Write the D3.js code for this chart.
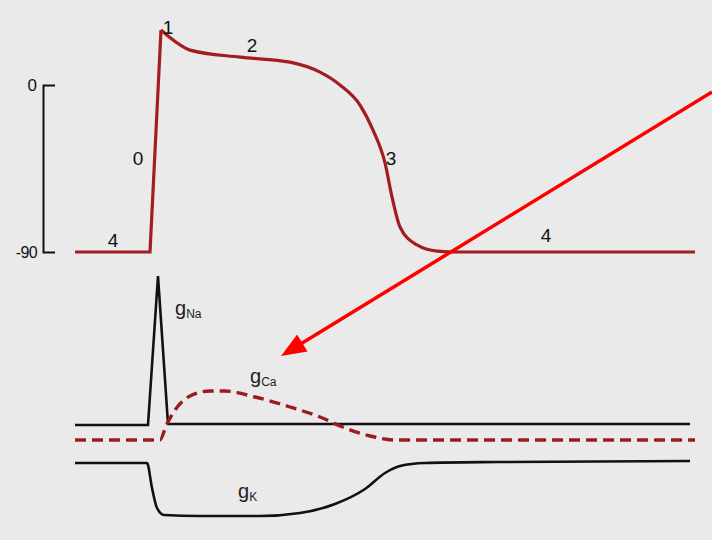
<!DOCTYPE html>
<html>
<head>
<meta charset="utf-8">
<script src="https://cdn.jsdelivr.net/npm/d3@7"></script>
<style>
  html, body { margin: 0; padding: 0; background: #eaeaea; }
  svg { display: block; font-family: "Liberation Sans", Arial, sans-serif; }
</style>
</head>
<body>
<svg id="chart" width="712" height="540"></svg>
<script>
// action potential (time in ms, membrane voltage in mV)
const apTime = [0, 37.5, 43, 46.5, 57.5, 82.5, 107.5, 122.5, 132.5, 142.5, 149, 155, 158.5, 162.5, 171, 181, 192.5, 310];
const apVolt = [-90, -90, 29.6, 26.4, 18.8, 15, 12.3, 6.9, 0, -10.8, -24.3, -42, -60.3, -76.5, -86.2, -89.5, -90, -90];

// conductances (arbitrary units, each trace on its own offset)
const naTime = [0, 36.5, 41.5, 46.5, 307.5];
const naCond = [40, 40, 99.6, 40.4, 40.4];

const caTime = [0, 42.5, 45.5, 50, 57.5, 67.5, 75, 90, 107.5, 122.5, 135, 147.5, 160, 172.5, 310];
const caCond = [34, 34, 39.6, 46, 51.6, 53.6, 53.6, 51.2, 47.2, 43.2, 38.8, 35.6, 34, 34, 34];

const kTime = [0, 36, 38.5, 41, 44.5, 62.5, 92.5, 112.5, 130, 145, 155, 162.5, 175, 212.5, 307.5];
const kCond = [24.8, 24.8, 14.8, 6.8, 4, 3.6, 3.6, 4.8, 8.4, 14.4, 20.8, 23.6, 24.8, 25.2, 25.6];

const voltTicks = [-90, 0];

const phaseText = ["0", "1", "2", "3", "4", "4"];
const phaseTime = [31.5, 46.5, 88.5, 158, 19, 235.5];
const phaseVolt = [-39.3, 31.3, 21.6, -39.3, -83.5, -80.8];

const condNames = ["Na", "Ca", "K"];
const condLabelTime = [50, 87.5, 81.5];
const condLabelVal = [84, 56.8, 10.8];

const svg = d3.select("#chart");

const x = d3.scaleLinear().domain([0, 310]).range([75, 695]);
const yV = d3.scaleLinear().domain([-90, 0]).range([252, 85]);
const yG = d3.scaleLinear().domain([0, 100]).range([525, 275]);

const apRed = "#a11d21";

// voltage bracket
const axis = svg.append("g")
    .attr("transform", "translate(43,0)")
    .call(d3.axisLeft(yV).tickValues(voltTicks).tickFormat(d => String(d))
        .tickSizeInner(0).tickSizeOuter(-12).tickPadding(6));
axis.select(".domain").attr("stroke", "#111").attr("stroke-width", 2);
axis.selectAll(".tick text")
    .attr("fill", "#111")
    .attr("font-size", d => d === 0 ? 17 : 16)
    .attr("letter-spacing", d => d === 0 ? 0 : -0.6)
    .attr("font-family", "'Liberation Sans', Arial, sans-serif");

// action potential: sharp upstroke, smooth repolarisation
const apPts = apTime.map((t, i) => [t, apVolt[i]]);
const linLine = d3.line().x(d => x(d[0])).y(d => yV(d[1]));
const smoothLine = d3.line().x(d => x(d[0])).y(d => yV(d[1])).curve(d3.curveMonotoneX);

svg.append("path")
    .attr("d", linLine(apPts.slice(0, 3)))
    .attr("fill", "none").attr("stroke", apRed).attr("stroke-width", 3.2)
    .attr("stroke-linejoin", "miter");
svg.append("path")
    .attr("d", smoothLine(apPts.slice(2)))
    .attr("fill", "none").attr("stroke", apRed).attr("stroke-width", 3.2);

svg.selectAll(".phase")
    .data(phaseText)
    .enter().append("text")
    .attr("class", "phase")
    .attr("x", (d, i) => x(phaseTime[i]))
    .attr("y", (d, i) => yV(phaseVolt[i]))
    .attr("dy", "0.35em")
    .attr("text-anchor", "middle")
    .attr("font-size", 19)
    .attr("fill", "#111")
    .text(d => d);

// conductance traces
const gLin = d3.line().x(d => x(d[0])).y(d => yG(d[1]));
const gSmooth = d3.line().x(d => x(d[0])).y(d => yG(d[1])).curve(d3.curveMonotoneX);

svg.append("path")
    .attr("d", gLin(naTime.map((t, i) => [t, naCond[i]])))
    .attr("fill", "none").attr("stroke", "#111").attr("stroke-width", 2.6)
    .attr("stroke-linejoin", "miter");

svg.append("path")
    .attr("d", gSmooth(kTime.map((t, i) => [t, kCond[i]])))
    .attr("fill", "none").attr("stroke", "#111").attr("stroke-width", 2.6);

svg.append("path")
    .attr("d", gSmooth(caTime.map((t, i) => [t, caCond[i]])))
    .attr("fill", "none").attr("stroke", "#9a1c20").attr("stroke-width", 3.4)
    .attr("stroke-dasharray", "11,6");

const glabels = svg.selectAll(".glabel")
    .data(condNames)
    .enter().append("text")
    .attr("class", "glabel")
    .attr("x", (d, i) => x(condLabelTime[i]))
    .attr("y", (d, i) => yG(condLabelVal[i]))
    .attr("font-size", 20)
    .attr("fill", "#222");
glabels.append("tspan").text("g");
glabels.append("tspan").attr("font-size", 12).attr("dy", 3).text(d => d);

// red arrow pointing at the gCa trace
const arrowFrom = [x(318.5), yV(-3.8)];
const arrowTo = [x(103), yG(67.6)];
const ang = Math.atan2(arrowTo[1] - arrowFrom[1], arrowTo[0] - arrowFrom[0]);
const headLen = 25, headHalf = 10;
const back = [arrowTo[0] - headLen * Math.cos(ang), arrowTo[1] - headLen * Math.sin(ang)];
svg.append("line")
    .attr("x1", arrowFrom[0]).attr("y1", arrowFrom[1])
    .attr("x2", back[0] + 2 * Math.cos(ang)).attr("y2", back[1] + 2 * Math.sin(ang))
    .attr("stroke", "#ff0000").attr("stroke-width", 3.5);
svg.append("polygon")
    .attr("points", [
        arrowTo,
        [back[0] + headHalf * Math.sin(ang), back[1] - headHalf * Math.cos(ang)],
        [back[0] - headHalf * Math.sin(ang), back[1] + headHalf * Math.cos(ang)]
    ].map(p => p.join(",")).join(" "))
    .attr("fill", "#ff0000");
</script>
</body>
</html>
